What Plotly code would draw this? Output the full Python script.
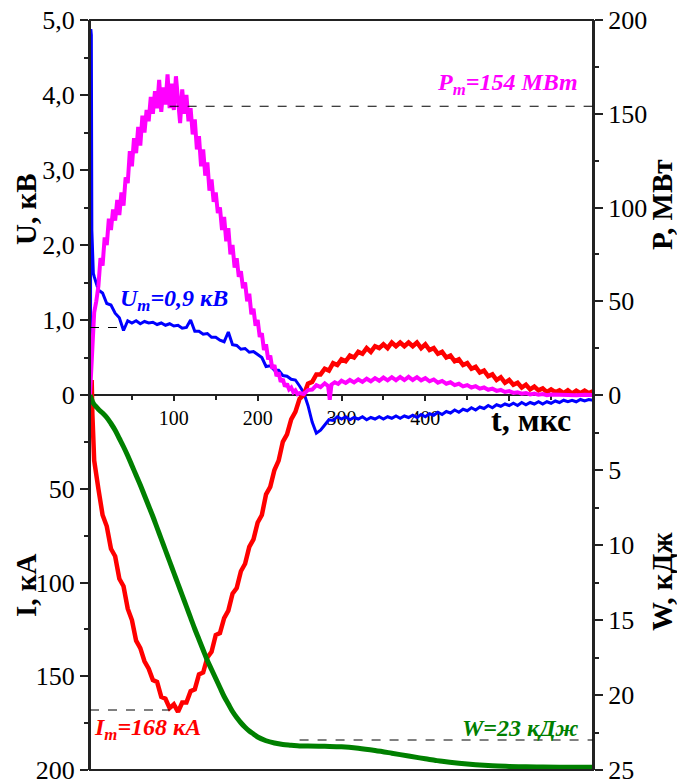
import numpy as np
import plotly.graph_objects as go

# ---------------- data ----------------
# voltage U, kV
u_t = [0, 0.6, 1.0, 1.6, 2.2, 3.0, 4.0] + list(np.arange(5, 601, 5))
u_val = [0, 0.8, 4.88, 4.80, 2.2, 1.7, 1.62,
         1.58, 1.40, 1.36, 1.22, 1.20, 1.09, 1.03, 0.86, 0.99, 0.96,
         0.99, 0.95, 0.98, 0.96, 0.97, 0.94, 0.96, 0.93, 0.95, 0.92,
         0.93, 0.89, 0.90, 1.00, 0.85, 0.85, 0.81, 0.82, 0.77, 0.77,
         0.73, 0.71, 0.84, 0.67, 0.66, 0.61, 0.62, 0.57, 0.58, 0.54,
         0.50, 0.38, 0.39, 0.33, 0.33, 0.26, 0.25, 0.21, 0.20, 0.12,
         0.03, -0.14, -0.36, -0.51, -0.47, -0.40, -0.33, -0.34, -0.29, -0.32,
         -0.29, -0.33, -0.30, -0.32, -0.29, -0.33, -0.30, -0.32, -0.29, -0.32,
         -0.29, -0.31, -0.28, -0.31, -0.28, -0.30, -0.27, -0.30, -0.26, -0.29,
         -0.25, -0.27, -0.23, -0.26, -0.22, -0.24, -0.20, -0.23, -0.19, -0.21,
         -0.17, -0.20, -0.16, -0.18, -0.14, -0.17, -0.13, -0.15, -0.12, -0.14,
         -0.11, -0.14, -0.10, -0.13, -0.10, -0.12, -0.09, -0.12, -0.09, -0.11,
         -0.08, -0.10, -0.07, -0.09, -0.07, -0.09, -0.06, -0.08, -0.06, -0.07]

# power P, MW
p_t = list(np.arange(0, 250.1, 2.5)) + [255, 260, 265, 270, 275, 280, 284, 286, 288, 292, 296] + \
      list(np.arange(300, 551, 5)) + [560, 570, 580, 590, 600]
p_val = [0, 22, 44, 50, 58, 73, 69, 84, 80, 94,
         88, 99, 93, 104, 96, 108, 101, 116, 113, 130,
         122, 137, 129, 143, 133, 149, 140, 152, 146, 159,
         150, 162, 153, 168, 151, 164, 155, 171, 153, 166,
         152, 170, 154, 145, 163, 150, 160, 146, 153, 139,
         147, 131, 138, 122, 131, 117, 124, 109, 115, 103,
         108, 97, 100, 88, 95, 82, 89, 75, 80, 68,
         73, 63, 66, 57, 60, 50, 54, 43, 46, 37,
         40, 31, 33, 24, 27, 19, 21, 14, 16, 10,
         12, 7, 8.5, 4.5, 6, 3, 4, 1.5, 2.5, 0.5,
         1.0,
         0.5, 2.6, 2.9, 5.2, 4.2, 6.2, 4.8, -2.5, 5.5, 6.8, 5.9,
         7.6, 6.4, 8.0, 6.7, 8.3, 7.0, 8.7, 7.3, 9.0, 7.6,
         9.3, 7.8, 9.5, 7.9, 9.6, 8.0, 9.7, 8.0, 9.5, 7.8,
         9.0, 7.3, 8.3, 6.6, 7.5, 6.0, 6.8, 5.3, 6.0, 4.6,
         5.3, 4.0, 4.7, 3.4, 4.0, 2.8, 3.4, 2.2, 2.7, 1.6,
         2.1, 1.1, 1.5, 0.7, 1.1, 0.3, 0.8, 0.1, 0.5, -0.1,
         0.3,
         0.0, 0.2, -0.1, 0.1, 0.0]

# current I, kA
i_t = [0, 1, 2, 2.8, 3.5, 4.5] + list(np.arange(5, 601, 5))
i_val = [0, -4, -8, 10, 30, 34,
         35, 50, 64, 70, 82, 86, 98, 102, 114, 120,
         131, 135, 142, 146, 152, 153, 161, 162, 167, 165,
         169, 164, 164, 158, 157, 149, 148, 140, 137, 128,
         127, 119, 115, 106, 103, 94, 90, 81, 77, 68,
         64, 53, 49, 40, 35, 25, 21, 13, 9, 2,
         0, -6, -7, -11, -11, -14, -13, -17, -16, -19,
         -18, -21, -20, -23, -22, -25, -23, -26, -25, -27,
         -25, -28, -26, -28, -26, -28, -26, -28, -25, -27,
         -24, -25, -22, -23, -20, -21, -18, -19, -16, -17,
         -14, -15, -12, -13, -10, -11, -8, -9.5, -6.5, -8,
         -5.5, -6.5, -4, -5.5, -3, -4.5, -2.5, -3.5, -1.5, -3,
         -1.5, -2.5, -1, -2.5, -0.8, -2.3, -1, -2.3, -1, -2]

# energy W, kJ
w_t = [0, 1, 2, 3, 4, 6, 8, 10, 15, 20, 25, 30, 35, 40, 45, 50, 55, 60, 65, 70,
       75, 80, 85, 90, 95, 100, 105, 110, 115, 120, 125, 130, 135, 140, 145, 150,
       155, 160, 165, 170, 175, 180, 185, 190, 195, 200, 210, 220, 230, 240, 250,
       260, 280, 300, 320, 340, 360, 380, 400, 420, 440, 460, 480, 500, 520, 540,
       560, 580, 600]
w_val = [0, 0.15, 0.3, 0.45, 0.55, 0.7, 0.82, 0.95, 1.2, 1.5, 1.9, 2.35, 2.9, 3.45,
         4.05, 4.7, 5.35, 6.0, 6.7, 7.4, 8.1, 8.85, 9.6, 10.35, 11.1, 11.85, 12.6,
         13.35, 14.1, 14.85, 15.6, 16.3, 17.0, 17.7, 18.3, 18.9, 19.5, 20.1, 20.6,
         21.1, 21.5, 21.85, 22.15, 22.4, 22.6, 22.8, 23.05, 23.2, 23.3, 23.35, 23.4,
         23.4, 23.42, 23.45, 23.55, 23.7, 23.88, 24.07, 24.25, 24.42, 24.55, 24.65,
         24.72, 24.76, 24.79, 24.8, 24.81, 24.82, 24.82]

# peak values
U_m, P_m, I_m, W_tot = 0.9, 154, 168, 23

# axis ticks
x_ticks = [100, 200, 300, 400, 500]
x_labels = ["100", "200", "300", "400", ""]
u_ticks = [0, 1, 2, 3, 4, 5]
u_labels = ["0", "1,0", "2,0", "3,0", "4,0", "5,0"]
i_ticks = [50, 100, 150, 200]
p_ticks = [0, 50, 100, 150, 200]
w_ticks = [5, 10, 15, 20, 25]

# ---------------- figure ----------------
SERIF = "Liberation Serif"
AX = "#222222"

fig = go.Figure()
fig.add_trace(go.Scatter(x=u_t, y=u_val, mode="lines", yaxis="y",
                         line=dict(color="#0000FF", width=3)))
fig.add_trace(go.Scatter(x=p_t, y=p_val, mode="lines", yaxis="y3",
                         line=dict(color="#FF00FF", width=4)))
fig.add_trace(go.Scatter(x=i_t, y=i_val, mode="lines", yaxis="y2",
                         line=dict(color="#FF0000", width=4.5)))
fig.add_trace(go.Scatter(x=w_t, y=w_val, mode="lines", yaxis="y4",
                         line=dict(color="#008000", width=5, shape="spline")))

tickfont_y = dict(family=SERIF, size=26, color="black")
common_y = dict(showgrid=False, zeroline=False, showline=True, linecolor=AX, linewidth=2,
                ticks="outside", ticklen=8, tickwidth=1.5, tickcolor=AX, tickfont=tickfont_y,
                ticklabeloverflow="allow", automargin=False,
                domain=[0, 1], anchor="x", fixedrange=True)

fig.update_layout(
    width=677, height=780,
    margin=dict(l=90, r=84, t=20, b=10, autoexpand=False),
    paper_bgcolor="white", plot_bgcolor="white",
    showlegend=False,
    xaxis=dict(range=[0, 600], domain=[0, 1], anchor="free", position=0.5,
               showline=True, linecolor=AX, linewidth=2, showgrid=False, zeroline=False,
               ticks="outside", ticklen=5, tickwidth=1.5, tickcolor=AX,
               tickvals=x_ticks, ticktext=x_labels, automargin=False,
               minor=dict(tickvals=[50, 150, 250, 350, 450, 550], ticklen=4, ticks="outside",
                          tickcolor=AX, tickwidth=1.5),
               tickfont=dict(family=SERIF, size=20, color="black"),
               layer="below traces"),
    yaxis=dict(range=[-5, 5], side="left", tickvals=u_ticks, ticktext=u_labels,
               minor=dict(tickvals=[0.5, 1.5, 2.5, 3.5, 4.5], ticklen=4, ticks="outside",
                          tickcolor=AX, tickwidth=1.5),
               **common_y),
    yaxis2=dict(range=[200, -200], side="left", overlaying="y", tickvals=i_ticks,
                minor=dict(tickvals=[25, 75, 125, 175], ticklen=4, ticks="outside",
                           tickcolor=AX, tickwidth=1.5),
                **common_y),
    yaxis3=dict(range=[-200, 200], side="right", overlaying="y", tickvals=p_ticks,
                minor=dict(tickvals=[25, 75, 125, 175], ticklen=4, ticks="outside",
                           tickcolor=AX, tickwidth=1.5),
                **common_y),
    yaxis4=dict(range=[25, -25], side="right", overlaying="y", tickvals=w_ticks,
                minor=dict(tickvals=[2.5, 7.5, 12.5, 17.5, 22.5], ticklen=4, ticks="outside",
                           tickcolor=AX, tickwidth=1.5),
                **common_y),
)

# frame
fig.add_shape(type="rect", xref="paper", yref="paper", x0=0, x1=1, y0=0, y1=1,
              line=dict(color=AX, width=2), layer="above")

# peak marker lines
dash = dict(color="black", width=1, dash="dash")
fig.add_shape(type="line", xref="x", yref="y3", x0=95, x1=600, y0=P_m, y1=P_m, line=dash)
fig.add_shape(type="line", xref="x", yref="y", x0=0, x1=40, y0=U_m, y1=U_m, line=dash)
fig.add_shape(type="line", xref="x", yref="y2", x0=0, x1=95, y0=I_m, y1=I_m, line=dash)
fig.add_shape(type="line", xref="x", yref="y4", x0=250, x1=600, y0=W_tot, y1=W_tot, line=dash)

# value labels
lab = dict(family=SERIF, size=24)
fig.add_annotation(x=585, y=166, xref="x", yref="y3", xanchor="right", yanchor="middle",
                   text=f"<b><i>P<sub>m</sub>={P_m} МВт</i></b>", showarrow=False,
                   font=dict(color="#FF00FF", **lab))
fig.add_annotation(x=33, y=1.27, xref="x", yref="y", xanchor="left", yanchor="middle",
                   text=f"<b><i>U<sub>m</sub>={str(U_m).replace('.', ',')} кВ</i></b>",
                   showarrow=False, font=dict(color="#0000FF", **lab))
fig.add_annotation(x=2, y=178, xref="x", yref="y2", xanchor="left", yanchor="middle",
                   text=f"<b><i>I<sub>m</sub>={I_m} кА</i></b>", showarrow=False,
                   font=dict(color="#FF0000", **lab))
fig.add_annotation(x=586, y=22.2, xref="x", yref="y4", xanchor="right", yanchor="middle",
                   text=f"<b><i>W={W_tot} кДж</i></b>", showarrow=False,
                   font=dict(color="#008000", **lab))

# axis titles
tfont = dict(family=SERIF, size=29, color="black")
def axis_title(px, py, text, angle=-90, font=tfont):
    fig.add_annotation(x=(px - 90) / 503, y=(770 - py) / 750, xref="paper", yref="paper",
                       xanchor="center", yanchor="middle", textangle=angle,
                       text=text, showarrow=False, font=font)

axis_title(26, 209, "<b>U, кВ</b>")
axis_title(26, 586, "<b>I, кА</b>")
axis_title(662, 205, "<b>P, МВт</b>")
axis_title(662, 582, "<b>W, кДж</b>")
axis_title(531, 420, "<b>t, мкс</b>", angle=0,
           font=dict(family=SERIF, size=32, color="black"))

fig.write_html("out.html")
